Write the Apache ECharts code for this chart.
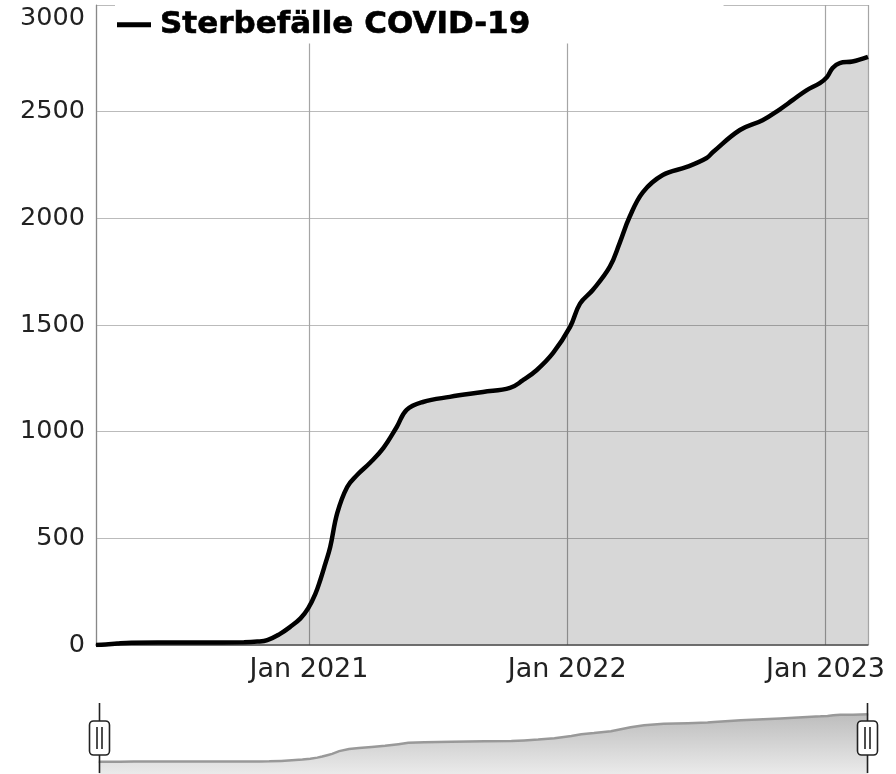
<!DOCTYPE html>
<html>
<head>
<meta charset="utf-8">
<script src="https://cdn.jsdelivr.net/npm/echarts@6.0.0/dist/echarts.min.js"></script>
<style>
html,body{margin:0;padding:0;background:#fff;}
#chart{width:896px;height:774px;}
</style>
</head>
<body>
<div id="chart"></div>
<script>
const seriesName = 'Sterbefälle COVID-19';
const dates = ['2020-03-06','2020-03-20','2020-04-05','2020-04-25','2020-06-01','2020-08-01','2020-10-01','2020-10-20','2020-11-03','2020-11-20','2020-12-05','2020-12-20','2020-12-31','2021-01-10','2021-01-17','2021-01-24','2021-01-31','2021-02-10','2021-02-24','2021-03-10','2021-03-28','2021-04-16','2021-05-05','2021-05-19','2021-06-11','2021-07-19','2021-09-04','2021-10-12','2021-10-30','2021-11-19','2021-12-12','2022-01-05','2022-01-19','2022-02-06','2022-03-02','2022-03-16','2022-03-30','2022-04-18','2022-05-16','2022-06-19','2022-07-17','2022-07-26','2022-09-02','2022-10-04','2022-10-28','2022-11-16','2022-12-05','2022-12-24','2023-01-03','2023-01-11','2023-01-21','2023-02-08','2023-03-02'];
const deaths = [0,2,7,11,12,12,13,16,23,50,84,125,173,240,305,380,459,619,741,797,853,923,1022,1102,1139,1163,1186,1205,1240,1289,1369,1491,1600,1664,1772,1884,2006,2123,2203,2241,2283,2311,2414,2460,2510,2555,2600,2634,2662,2705,2728,2735,2757];
const yTicks = [0,500,1000,1500,2000,2500,3000];
const monthNames = ['Jan','Feb','Mar','Apr','May','Jun','Jul','Aug','Sep','Oct','Nov','Dec'];

const data = dates.map((d,i)=>[d, deaths[i]]);
const FONT = 'DejaVu Sans';
const chart = echarts.init(document.getElementById('chart'));
const grad = new echarts.graphic.LinearGradient(0,0,0,1,[{offset:0,color:'#ececec'},{offset:1,color:'#bdbdbd'}]);
const yMax = yTicks[yTicks.length-1];
const handlePath = 'path://M0,0V18M-10,22A4,4,0,0,1,-6,18H6A4,4,0,0,1,10,22V48A4,4,0,0,1,6,52H-6A4,4,0,0,1,-10,48ZM-2.5,24V46M2.5,24V46M0,52V70';
chart.setOption({
  animation:false,
  textStyle:{fontFamily:FONT},
  grid:{left:96,right:28,top:5,bottom:129,containLabel:false},
  legend:{
    left:115, top:0,
    padding:[9,193,3,2],
    backgroundColor:'#fff',
    z:10,
    icon:'rect', itemWidth:34, itemHeight:5, itemGap:10,
    data:[{name:seriesName, itemStyle:{color:'#000'}}],
    textStyle:{fontFamily:FONT,fontWeight:'bold',fontSize:31,color:'#000',padding:[0,0,0,4],
      textBorderColor:'#000',textBorderWidth:0.6}
  },
  xAxis:{
    type:'time',
    min:'dataMin', max:'dataMax',
    minInterval:365*24*3600*1000, maxInterval:366*24*3600*1000,
    axisLine:{show:true,lineStyle:{color:'#555',width:1.5}},
    axisTick:{show:false},
    splitLine:{show:true,lineStyle:{color:'#a5a5a5',width:1.2}},
    axisLabel:{
      fontFamily:FONT,fontSize:27,color:'#222',margin:11,
      formatter:function(v){const d=new Date(v);return monthNames[d.getMonth()]+' '+d.getFullYear();}
    }
  },
  yAxis:{
    type:'value',min:yTicks[0],max:yMax,interval:500,
    axisLine:{show:true,lineStyle:{color:'#888',width:1.2}},
    axisTick:{show:false},
    splitLine:{show:true,lineStyle:{color:'#bbb',width:1.2}},
    axisLabel:{fontFamily:FONT,fontSize:25.5,color:'#222',margin:11,
      formatter:function(v){return v===yMax ? '{t|'+v+'}' : String(v);},
      rich:{t:{fontFamily:FONT,fontSize:25.5,color:'#222',padding:[26,0,0,0]}}
    }
  },
  dataZoom:[{
    type:'slider',xAxisIndex:0,left:96,right:30,top:700,height:76,
    showDetail:false,brushSelect:false,moveHandleSize:0,
    handleIcon:handlePath,handleSize:'92%',
    fillerColor:'rgba(0,0,0,0)',borderColor:'rgba(0,0,0,0)',backgroundColor:'rgba(0,0,0,0)',
    handleStyle:{color:'#fff',borderColor:'#222',borderWidth:1.6},
    dataBackground:{lineStyle:{color:'#999',width:2.5,opacity:1},areaStyle:{color:grad,opacity:1}},
    selectedDataBackground:{lineStyle:{color:'#999',width:2.5,opacity:1},areaStyle:{color:grad,opacity:1}}
  }],
  series:[{
    name:seriesName,type:'line',data:data,smooth:0.4,showSymbol:false,symbol:'none',
    lineStyle:{color:'#000',width:4.5},
    itemStyle:{color:'#000'},
    areaStyle:{color:'#000',opacity:0.155}
  }]
});
</script>
</body>
</html>
